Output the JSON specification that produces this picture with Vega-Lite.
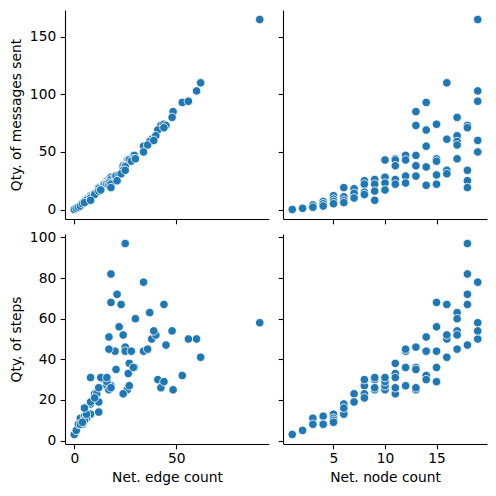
{
  "$schema": "https://vega.github.io/schema/vega-lite/v6.json",
  "padding": {"left": 9, "top": 10, "right": 5, "bottom": 5},
  "background": "white",
  "config": {
    "view": {"stroke": null},
    "font": "DejaVu Sans",
    "axis": {
      "grid": false,
      "domainColor": "black",
      "domainWidth": 1.1,
      "tickColor": "black",
      "tickWidth": 1.1,
      "tickSize": 4.8,
      "labelPadding": 4.5,
      "labelFont": "DejaVu Sans",
      "titleFont": "DejaVu Sans",
      "labelFontSize": 13.8,
      "titleFontSize": 13.8,
      "titleFontWeight": "normal",
      "labelColor": "black",
      "titleColor": "black",
      "titlePadding": 6
    },
    "axisX": {"labelPadding": 2.5, "titlePadding": 5}
  },
  "datasets": {
    "nets": [
      {"nodes": 1, "edges": 0, "messages": 0, "steps": 3},
      {"nodes": 2, "edges": 1, "messages": 1, "steps": 5},
      {"nodes": 3, "edges": 3, "messages": 4, "steps": 11},
      {"nodes": 3, "edges": 2, "messages": 2, "steps": 8},
      {"nodes": 4, "edges": 5, "messages": 7, "steps": 12},
      {"nodes": 4, "edges": 4, "messages": 5, "steps": 8},
      {"nodes": 4, "edges": 3, "messages": 3, "steps": 8},
      {"nodes": 5, "edges": 8, "messages": 12, "steps": 13},
      {"nodes": 5, "edges": 6, "messages": 9, "steps": 11},
      {"nodes": 5, "edges": 5, "messages": 7, "steps": 10},
      {"nodes": 5, "edges": 4, "messages": 5, "steps": 9},
      {"nodes": 6, "edges": 12, "messages": 19, "steps": 14},
      {"nodes": 6, "edges": 8, "messages": 11, "steps": 18},
      {"nodes": 6, "edges": 6, "messages": 8, "steps": 13},
      {"nodes": 6, "edges": 5, "messages": 6, "steps": 16},
      {"nodes": 7, "edges": 12, "messages": 18, "steps": 19},
      {"nodes": 7, "edges": 10, "messages": 14, "steps": 23},
      {"nodes": 7, "edges": 8, "messages": 10, "steps": 19},
      {"nodes": 8, "edges": 16, "messages": 25, "steps": 27},
      {"nodes": 8, "edges": 14.5, "messages": 22, "steps": 30},
      {"nodes": 8, "edges": 11, "messages": 15, "steps": 23},
      {"nodes": 8, "edges": 10, "messages": 13, "steps": 21},
      {"nodes": 9, "edges": 17, "messages": 26, "steps": 25},
      {"nodes": 9, "edges": 15, "messages": 22, "steps": 30},
      {"nodes": 9, "edges": 12, "messages": 16, "steps": 26},
      {"nodes": 9, "edges": 8, "messages": 8, "steps": 31},
      {"nodes": 10, "edges": 26, "messages": 43, "steps": 25},
      {"nodes": 10, "edges": 18, "messages": 28, "steps": 27},
      {"nodes": 10, "edges": 16, "messages": 23, "steps": 29},
      {"nodes": 10, "edges": 13, "messages": 17, "steps": 31},
      {"nodes": 11, "edges": 27, "messages": 44, "steps": 38},
      {"nodes": 11, "edges": 26.5, "messages": 43, "steps": 33},
      {"nodes": 11, "edges": 24, "messages": 38, "steps": 23},
      {"nodes": 11, "edges": 18, "messages": 26, "steps": 26},
      {"nodes": 11, "edges": 16, "messages": 22, "steps": 31},
      {"nodes": 12, "edges": 29, "messages": 47, "steps": 36},
      {"nodes": 12, "edges": 27, "messages": 43, "steps": 27},
      {"nodes": 12, "edges": 20, "messages": 29, "steps": 44},
      {"nodes": 12, "edges": 17, "messages": 23, "steps": 45},
      {"nodes": 13, "edges": 48.5, "messages": 85, "steps": 25},
      {"nodes": 13, "edges": 42.5, "messages": 73, "steps": 26},
      {"nodes": 13, "edges": 29.5, "messages": 47, "steps": 36},
      {"nodes": 13, "edges": 25, "messages": 38, "steps": 46},
      {"nodes": 13, "edges": 20.5, "messages": 29, "steps": 35},
      {"nodes": 14, "edges": 53, "messages": 93, "steps": 32},
      {"nodes": 14, "edges": 41, "messages": 69, "steps": 30},
      {"nodes": 14, "edges": 34, "messages": 55, "steps": 44},
      {"nodes": 14, "edges": 25, "messages": 37, "steps": 44},
      {"nodes": 14, "edges": 17, "messages": 21, "steps": 51},
      {"nodes": 15, "edges": 44, "messages": 74, "steps": 29},
      {"nodes": 15, "edges": 29, "messages": 44, "steps": 36},
      {"nodes": 15, "edges": 28, "messages": 42, "steps": 44},
      {"nodes": 15, "edges": 22, "messages": 30, "steps": 56},
      {"nodes": 15, "edges": 18, "messages": 22, "steps": 68},
      {"nodes": 16, "edges": 62, "messages": 110, "steps": 41},
      {"nodes": 16, "edges": 38, "messages": 61, "steps": 50},
      {"nodes": 16, "edges": 24, "messages": 34, "steps": 52},
      {"nodes": 16, "edges": 23, "messages": 31, "steps": 67},
      {"nodes": 17, "edges": 48, "messages": 80, "steps": 54},
      {"nodes": 17, "edges": 40, "messages": 64, "steps": 52},
      {"nodes": 17, "edges": 37, "messages": 59, "steps": 63},
      {"nodes": 17, "edges": 36, "messages": 56, "steps": 45},
      {"nodes": 17, "edges": 30, "messages": 44, "steps": 60},
      {"nodes": 18, "edges": 45, "messages": 73, "steps": 47},
      {"nodes": 18, "edges": 44, "messages": 71, "steps": 67},
      {"nodes": 18, "edges": 25, "messages": 34, "steps": 97},
      {"nodes": 18, "edges": 21, "messages": 25, "steps": 72},
      {"nodes": 18, "edges": 18, "messages": 19, "steps": 82},
      {"nodes": 19, "edges": 91, "messages": 165, "steps": 58},
      {"nodes": 19, "edges": 60, "messages": 103, "steps": 50},
      {"nodes": 19, "edges": 56, "messages": 94, "steps": 50},
      {"nodes": 19, "edges": 39, "messages": 60, "steps": 54},
      {"nodes": 19, "edges": 34, "messages": 50, "steps": 78}
    ]
  },
  "data": {"name": "nets"},
  "columns": 2,
  "spacing": {"row": 5, "column": 8},
  "concat": [
    {
      "width": 204, "height": 209,
      "mark": {"type": "point", "filled": true, "color": "#1f77b4", "opacity": 1, "size": 72, "stroke": "white", "strokeWidth": 0.8},
      "encoding": {
        "x": {"field": "edges", "type": "quantitative", "scale": {"domain": [-4.55, 95.55], "nice": false, "zero": false}, "axis": {"values": [0, 50], "labels": false, "title": null}},
        "y": {"field": "messages", "type": "quantitative", "scale": {"domain": [-8.25, 173.25], "nice": false, "zero": false}, "axis": {"values": [0, 50, 100, 150], "title": "Qty. of messages sent"}}
      }
    },
    {
      "width": 204, "height": 209,
      "mark": {"type": "point", "filled": true, "color": "#1f77b4", "opacity": 1, "size": 72, "stroke": "white", "strokeWidth": 0.8},
      "encoding": {
        "x": {"field": "nodes", "type": "quantitative", "scale": {"domain": [0.1, 19.9], "nice": false, "zero": false}, "axis": {"values": [5, 10, 15], "labels": false, "title": null}},
        "y": {"field": "messages", "type": "quantitative", "scale": {"domain": [-8.25, 173.25], "nice": false, "zero": false}, "axis": {"values": [0, 50, 100, 150], "labels": false, "title": null}}
      }
    },
    {
      "width": 204, "height": 210,
      "mark": {"type": "point", "filled": true, "color": "#1f77b4", "opacity": 1, "size": 72, "stroke": "white", "strokeWidth": 0.8},
      "encoding": {
        "x": {"field": "edges", "type": "quantitative", "scale": {"domain": [-4.55, 95.55], "nice": false, "zero": false}, "axis": {"values": [0, 50], "title": "Net. edge count"}},
        "y": {"field": "steps", "type": "quantitative", "scale": {"domain": [-1.7, 101.7], "nice": false, "zero": false}, "axis": {"values": [0, 20, 40, 60, 80, 100], "title": "Qty. of steps"}}
      }
    },
    {
      "width": 204, "height": 210,
      "mark": {"type": "point", "filled": true, "color": "#1f77b4", "opacity": 1, "size": 72, "stroke": "white", "strokeWidth": 0.8},
      "encoding": {
        "x": {"field": "nodes", "type": "quantitative", "scale": {"domain": [0.1, 19.9], "nice": false, "zero": false}, "axis": {"values": [5, 10, 15], "title": "Net. node count"}},
        "y": {"field": "steps", "type": "quantitative", "scale": {"domain": [-1.7, 101.7], "nice": false, "zero": false}, "axis": {"values": [0, 20, 40, 60, 80, 100], "labels": false, "title": null}}
      }
    }
  ]
}
